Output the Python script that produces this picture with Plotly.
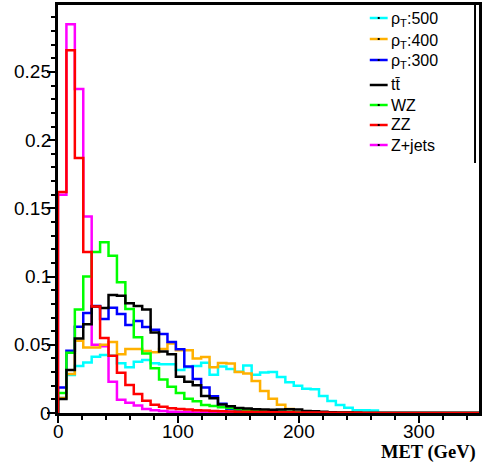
import numpy as np
import plotly.graph_objects as go

# ---------------- data (normalised MET distributions, 7 GeV bins) ----------------
BIN_WIDTH = 7
N_BINS = 50

zjets = [0.160, 0.285, 0.2375, 0.144, 0.050, 0.049, 0.023, 0.0098, 0.0075, 0.0055,
         0.003, 0.002, 0.0015, 0.001, 0.0008, 0.0005, 0.0004, 0.0003, 0.0002, 0.0002]
zz = [0.162, 0.266, 0.187, 0.118, 0.078, 0.055, 0.042, 0.0295, 0.0205, 0.014,
      0.009, 0.006, 0.0045, 0.0035, 0.003, 0.0025, 0.002, 0.0018, 0.0015, 0.0013,
      0.0011, 0.001, 0.0009, 0.0008, 0.0007, 0.0006, 0.0005, 0.0005, 0.0004, 0.0004,
      0.0003, 0.0003, 0.0002, 0.0002, 0.0002, 0.0001]
wz = [0.0147, 0.0442, 0.0758, 0.100, 0.118, 0.1252, 0.1152, 0.0959, 0.0763, 0.0555,
      0.0437, 0.0328, 0.0245, 0.0193, 0.0146, 0.0105, 0.0086, 0.0059, 0.0051, 0.0042,
      0.0037, 0.0027, 0.002, 0.0017, 0.0014, 0.0012, 0.001, 0.0008, 0.0006, 0.0005,
      0.0004, 0.0003, 0.0002, 0.0002, 0.0001]
ttbar = [0.0103, 0.0315, 0.0547, 0.065, 0.078, 0.077, 0.0865, 0.086, 0.0804, 0.0785,
         0.0758, 0.059, 0.045, 0.043, 0.0266, 0.023, 0.0203, 0.0124, 0.0108, 0.0062,
         0.0049, 0.0037, 0.0033, 0.0028, 0.0025, 0.0023, 0.0025, 0.0028, 0.0025, 0.0015,
         0.0012, 0.001, 0.0006, 0.0004, 0.0003, 0.0002]
rho300 = [0.0187, 0.0457, 0.0633, 0.0733, 0.0784, 0.069, 0.0772, 0.0725, 0.0645, 0.0674,
          0.063, 0.061, 0.058, 0.052, 0.0467, 0.034, 0.025, 0.0187, 0.0123, 0.0068,
          0.003, 0.0015, 0.0008, 0.0005, 0.0003, 0.0002]
rho400 = [0.011, 0.0285, 0.053, 0.048, 0.048, 0.050, 0.052, 0.043, 0.047, 0.047,
          0.0455, 0.0445, 0.047, 0.051, 0.046, 0.046, 0.040, 0.041, 0.0335, 0.0367,
          0.0362, 0.030, 0.029, 0.0235, 0.0162, 0.0105, 0.006, 0.003, 0.0005]
rho500 = [0.011, 0.0278, 0.0345, 0.037, 0.0413, 0.0425, 0.042, 0.0364, 0.0335, 0.0376,
          0.0389, 0.0364, 0.0357, 0.0357, 0.0315, 0.0335, 0.0345, 0.0368, 0.028, 0.034,
          0.0322, 0.0303, 0.0348, 0.028, 0.0296, 0.030, 0.0263, 0.0225, 0.020, 0.0178,
          0.0174, 0.0125, 0.0088, 0.0059, 0.0039, 0.002, 0.002, 0.0018]

legend_labels = ["ρ<sub>T</sub>:500", "ρ<sub>T</sub>:400", "ρ<sub>T</sub>:300",
                 "tt\u0304", "WZ", "ZZ", "Z+jets"]
x_ticks = [0, 100, 200, 300]
x_tick_labels = ["0", "100", "200", "300"]
y_ticks = [0, 0.05, 0.1, 0.15, 0.2, 0.25]
y_tick_labels = ["0", "0.05", "0.1", "0.15", "0.2", "0.25"]

# ---------------- styling ----------------
COLORS = {"rho500": "#00ffff", "rho400": "#ffb000", "rho300": "#0000ff",
          "ttbar": "#000000", "wz": "#00ff00", "zz": "#ff0000", "zjets": "#ff00ff"}

W, H = 482, 463
ML, MR, MT, MB = 58, 0, 5, 50
PW, PH = W - ML - MR, H - MT - MB
TICK_FONT = dict(family="Liberation Sans", size=19, color="black")

edges = np.arange(N_BINS + 1) * BIN_WIDTH


def step_xy(vals):
    v = list(vals) + [0.0] * (N_BINS - len(vals))
    x = [edges[0]] + list(edges)
    y = [0.0] + v + [v[-1]]
    return x, y


fig = go.Figure()
draw_order = [("zjets", zjets), ("rho500", rho500), ("rho400", rho400),
              ("rho300", rho300), ("wz", wz), ("ttbar", ttbar), ("zz", zz)]
for key, vals in draw_order:
    x, y = step_xy(vals)
    fig.add_trace(go.Scatter(x=x, y=y, mode="lines", line_shape="hv",
                             line=dict(color=COLORS[key], width=2.5),
                             showlegend=False, hoverinfo="skip"))


def px(xp):
    return (xp - ML) / PW


def py(yp):
    return (H - MB - yp) / PH


shapes = []
annotations = []

# tick labels (placed like ROOT: close to the axis)
for v, lab in zip(x_ticks, x_tick_labels):
    annotations.append(dict(text=lab, xref="x", yref="paper", x=v, y=py(431),
                            xanchor="center", yanchor="middle", showarrow=False,
                            font=TICK_FONT))
for v, lab in zip(y_ticks, y_tick_labels):
    annotations.append(dict(text=lab, xref="paper", yref="y", x=px(53), y=v,
                            xanchor="right", yanchor="middle", showarrow=False,
                            font=TICK_FONT))

# manual ROOT-like legend
legend_keys = ["rho500", "rho400", "rho300", "ttbar", "wz", "zz", "zjets"]
legend_line_y = [18, 39, 60, 85, 105, 125, 145]
for key, lab, ly in zip(legend_keys, legend_labels, legend_line_y):
    shapes.append(dict(type="line", xref="paper", yref="paper",
                       x0=px(372), x1=px(390), y0=py(ly), y1=py(ly),
                       line=dict(color=COLORS[key], width=2.5)))
    shapes.append(dict(type="rect", xref="paper", yref="paper",
                       x0=px(380), x1=px(382), y0=py(ly - 1), y1=py(ly + 1),
                       line=dict(width=0), fillcolor="black"))
    is_rho = lab.startswith("ρ")
    annotations.append(dict(text=lab, xref="paper", yref="paper",
                            x=px(391), y=py(ly + (2 if is_rho else 0)),
                            xanchor="left", yanchor="middle", showarrow=False,
                            font=dict(family="Liberation Sans", size=16, color="black")))
# legend box right border
shapes.append(dict(type="line", xref="paper", yref="paper",
                   x0=px(478), x1=px(478), y0=py(5), y1=py(163),
                   line=dict(color="black", width=2)))

annotations.append(dict(text="<b>MET (GeV)</b>", xref="paper", yref="paper",
                        x=px(481), y=py(452), xanchor="right", yanchor="middle",
                        showarrow=False,
                        font=dict(family="Liberation Serif", size=18.5, color="black")))

fig.update_layout(
    width=W, height=H,
    margin=dict(l=ML, r=MR, t=MT, b=MB, pad=0),
    paper_bgcolor="white", plot_bgcolor="white",
    shapes=shapes, annotations=annotations,
    xaxis=dict(range=[0, 350], tickvals=x_ticks, showticklabels=False,
               ticks="outside", ticklen=7,
               tickwidth=2, tickcolor="black", showline=True, linewidth=2.5,
               linecolor="black", mirror=True, showgrid=False, zeroline=False,
               minor=dict(dtick=20, ticks="outside", ticklen=4, tickwidth=2,
                          tickcolor="black", showgrid=False)),
    yaxis=dict(range=[0, 0.2991], tickvals=y_ticks, showticklabels=False,
               ticks="outside", ticklen=8,
               tickwidth=2, tickcolor="black", showline=True, linewidth=2.5,
               linecolor="black", mirror=True, showgrid=False, zeroline=False,
               minor=dict(dtick=0.01, ticks="outside", ticklen=4, tickwidth=2,
                          tickcolor="black", showgrid=False)),
)

fig.write_html("out.html")
